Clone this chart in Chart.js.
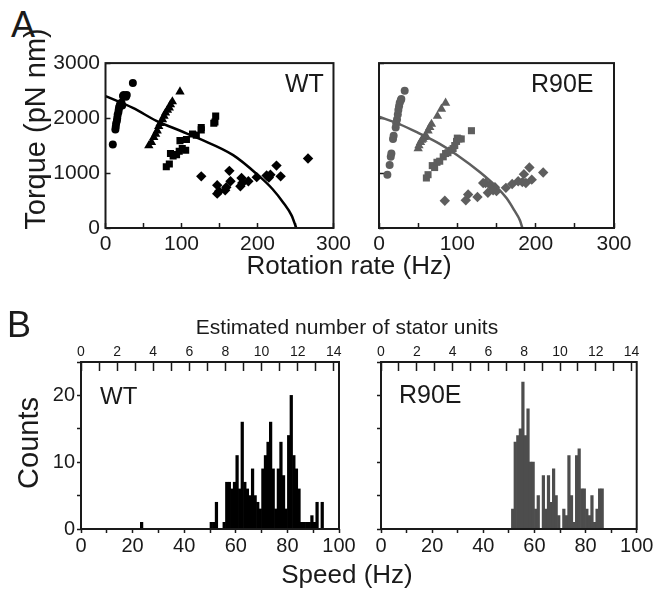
<!DOCTYPE html>
<html>
<head>
<meta charset="utf-8">
<script src="https://cdn.jsdelivr.net/npm/chart.js@4.4.1/dist/chart.umd.min.js"></script>
<style>
  body { margin: 0; background: #fff; }
  #fig { position: relative; width: 655px; height: 589px; overflow: hidden;
         font-family: "Liberation Sans", Arial, sans-serif; color: #1a1a1a; }
  canvas { position: absolute; }
  .t { position: absolute; line-height: 1; white-space: nowrap; z-index: 2; }
  .c { transform: translateX(-50%); }
  .r { transform: translate(-50%, -50%) rotate(-90deg); }
</style>
</head>
<body>
<div id="fig">
  <canvas id="aWT" width="320" height="235" style="left:40px;top:40px"></canvas>
  <canvas id="aR90E" width="290" height="235" style="left:355px;top:40px"></canvas>
  <canvas id="bWT" width="320" height="230" style="left:40px;top:330px"></canvas>
  <canvas id="bR90E" width="300" height="230" style="left:355px;top:330px"></canvas>

  <div class="t" style="left:11px;top:7px;font-size:36px">A</div>
  <div class="t r" style="left:35px;top:129px;font-size:29px">Torque (pN nm)</div>
  <div class="t c" style="left:349px;top:252px;font-size:26px">Rotation rate (Hz)</div>
  <div class="t" style="left:285px;top:71px;font-size:25px">WT</div>
  <div class="t" style="left:531px;top:71px;font-size:25px">R90E</div>

  <div class="t" style="left:7px;top:307px;font-size:36px">B</div>
  <div class="t c" style="left:347px;top:316px;font-size:21px">Estimated number of stator units</div>
  <div class="t r" style="left:28px;top:443px;font-size:29px">Counts</div>
  <div class="t c" style="left:347px;top:561px;font-size:26px">Speed (Hz)</div>
  <div class="t" style="left:100px;top:384px;font-size:24px">WT</div>
  <div class="t" style="left:399px;top:382px;font-size:25px">R90E</div>
</div>
<script>
// ---- panel A: torque (pN nm) vs rotation rate (Hz) ----
const wtCircles = [[9.6,1520],[13,1790],[13.5,1840],[14,1900],[15,1950],[15.5,2000],[16,2060],[17,2110],
  [17.5,2160],[18,2200],[19,2230],[19.5,2260],[21,2280],[22,2230],[23,2400],[24,2420],[27,2390],[28,2420],[36,2640]];
const wtTriangles = [[57,1500],[60.5,1560],[63.5,1650],[66,1710],[68,1770],[70,1850],[72,1905],[75,1975],
  [77,2035],[79,2095],[81.5,2145],[84,2185],[85.5,2245],[88,2300],[98,2480]];
const wtSquares = [[80,1115],[84,1165],[85.5,1355],[89,1310],[93.5,1335],[97,1395],[98,1590],[101,1445],
  [105.5,1415],[106.5,1610],[114.5,1710],[119.5,1690],[126,1830],[126,1785],[142.5,1905],[144,1930],[145,2035]];
const wtDiamonds = [[126,940],[147,780],[147,625],[149.5,670],[157.5,685],[159,740],[163,1040],[164.5,850],
  [177.5,760],[179,910],[180,820],[188,850],[199,925],[212,955],[215,920],[217,970],[225,1135],[230.5,940],[266.5,1265]];
const wtCurve = [[0,2400],[36,2185],[67,1950],[100,1760],[124,1620],[168,1325],[200,970],[220,705],[234,460],[245,225],[251,0]];

const r90eCircles = [[10.7,970],[13.6,1145],[15,1295],[15.8,1355],[17.9,1620],[18.7,1680],[21.3,1830],[22,1905],
  [23,1975],[24,2065],[24.7,2145],[25.6,2215],[26.4,2275],[27.7,2320],[28.5,2345],[32.8,2495]];
const r90eTriangles = [[50,1445],[51,1500],[53,1560],[54.5,1600],[56,1620],[58,1650],[59.7,1680],[62.6,1770],
  [64.8,1830],[67,1890],[74.6,2035],[79.7,2165],[85,2275]];
const r90eSquares = [[60.5,910],[62.6,970],[68,1135],[71,1100],[74,1195],[77.5,1215],[82,1295],[85,1355],
  [88,1370],[92.5,1415],[94.6,1445],[96.7,1500],[99,1575],[100,1635],[102,1620],[105,1620],[118,1770]];
const r90eDiamonds = [[84,495],[110.8,505],[113.8,610],[125.7,565],[133,820],[136,820],[139,640],[142,780],
  [145.7,685],[148,740],[150,670],[162,730],[170,800],[177.7,850],[183,835],[185,980],[187.5,820],[192,1100],[195,880],[209.6,1010]];
const r90eCurve = [[0,2025],[26,1890],[50,1730],[77.5,1530],[100,1325],[129,1015],[150,750],[163,540],[173,315],[180,137],[183,0]];

const rateTicks = [0, 100, 200, 300];
const torqueTicks = [0, 1000, 2000, 3000];

// ---- panel B: speed histograms, 1 Hz bins (bin centres in Hz) ----
const wtBinHz = [23.5, 50.5, 51.5, 52.5, 53.5, 54.5, 55.5, 56.5, 57.5, 58.5, 59.5, 60.5, 61.5, 62.5, 63.5, 64.5,
  65.5, 66.5, 67.5, 68.5, 69.5, 70.5, 71.5, 72.5, 73.5, 74.5, 75.5, 76.5, 77.5, 78.5, 79.5, 80.5, 81.5, 82.5,
  83.5, 84.5, 85.5, 86.5, 87.5, 88.5, 89.5, 90.5, 91.5, 92.5, 93.5];
const wtCounts = [1, 1, 1, 4, 0, 0, 1, 7, 7, 6, 7, 11, 6, 16, 7, 6,
  5, 9, 5, 4, 3, 9, 11, 13, 16, 9, 3, 9, 13, 8, 3, 14, 20, 11,
  9, 6, 1, 1, 1, 1, 2, 1, 4, 0, 4];
const r90eBinHz = [51.5, 52.5, 53.5, 54.5, 55.5, 56.5, 57.5, 58.5, 59.5, 60.5, 61.5, 62.5, 63.5, 64.5, 65.5,
  66.5, 67.5, 68.5, 69.5, 70.5, 71.5, 72.5, 73.5, 74.5, 75.5, 76.5, 77.5, 78.5, 79.5, 80.5, 81.5, 82.5,
  83.5, 84.5, 85.5, 86.5];
const r90eCounts = [3, 13, 14, 15, 22, 14, 18, 10, 10, 3, 5, 0, 8, 3, 8,
  4, 9, 5, 2, 0, 3, 2, 11, 5, 1, 11, 12, 6, 6, 3, 2, 5,
  1, 3, 6, 6];

const speedTicks = [0, 20, 40, 60, 80, 100];
const countTicks = [0, 10, 20];
const statorTicks = [0, 2, 4, 6, 8, 10, 12, 14];
const hzPerStator = 7;

const FONT = '"Liberation Sans", Arial, sans-serif';
const INK = '#1a1a1a';
const WT_COLOR = '#000000';
const R90E_COLOR = '#5e5e5e';
const R90E_BAR = '#4d4d4d';

// box round the plot area
const frame = {
  id: 'frame',
  afterDraw(chart) {
    const a = chart.chartArea;
    const ctx = chart.ctx;
    ctx.save();
    ctx.strokeStyle = INK;
    ctx.lineWidth = 2;
    ctx.strokeRect(a.left, a.top, a.right - a.left, a.bottom - a.top);
    ctx.restore();
  }
};

// padding / axis sizes so that the plot area lands on the given page box
function fitTo(canvas, plot, topAxisH) {
  const cx = canvas.offsetLeft, cy = canvas.offsetTop;
  return {
    padding: { left: 0, top: plot.top - cy - topAxisH, right: cx + canvas.width - plot.right, bottom: 0 },
    leftW: plot.left - cx,
    bottomH: cy + canvas.height - plot.bottom
  };
}

const pts = list => list.map(p => ({ x: p[0], y: p[1] }));

function markerSet(list, style, radius, color) {
  return { type: 'scatter', data: pts(list), pointStyle: style, pointRadius: radius,
           backgroundColor: color, borderColor: color, borderWidth: 0, order: 1 };
}

function curveSet(list, color) {
  return { type: 'line', data: pts(list), borderColor: color, borderWidth: 2.5, pointRadius: 0,
           cubicInterpolationMode: 'monotone', fill: false, order: 0 };
}

function torquePanel(id, plot, s, color, showY) {
  const canvas = document.getElementById(id);
  const f = fitTo(canvas, plot, 0);
  const font = { family: FONT, size: 21 };
  return new Chart(canvas, {
    type: 'scatter',
    data: {
      datasets: [
        markerSet(s.circles, 'circle', 4, color),
        markerSet(s.triangles, 'triangle', 5.4, color),
        markerSet(s.squares, 'rect', 5, color),
        markerSet(s.diamonds, 'rectRot', 5.2, color),
        curveSet(s.curve, color)
      ]
    },
    options: {
      responsive: false,
      animation: false,
      layout: { padding: f.padding },
      plugins: { legend: { display: false }, tooltip: { enabled: false } },
      scales: {
        x: {
          type: 'linear', min: rateTicks[0], max: rateTicks[rateTicks.length - 1],
          afterFit: sc => { sc.height = f.bottomH; },
          border: { display: false },
          grid: { drawOnChartArea: false, tickLength: -5, tickColor: INK, tickWidth: 1.5 },
          ticks: { stepSize: 50, autoSkip: false, maxRotation: 0, padding: 9, color: INK, font: font,
                   callback: v => rateTicks.includes(v) ? String(v) : '' }
        },
        y: {
          type: 'linear', min: torqueTicks[0], max: torqueTicks[torqueTicks.length - 1],
          afterFit: sc => { sc.width = f.leftW; },
          border: { display: false },
          grid: { drawOnChartArea: false, tickLength: -5, tickColor: INK, tickWidth: 1.5 },
          ticks: { stepSize: 1000, autoSkip: false, padding: 10.5, color: INK, font: font,
                   callback: v => (showY && torqueTicks.includes(v)) ? String(v) : '' }
        }
      }
    },
    plugins: [frame]
  });
}

function speedPanel(id, plot, binHz, counts, color, showY) {
  const canvas = document.getElementById(id);
  const topH = 32;
  const f = fitTo(canvas, plot, topH);
  return new Chart(canvas, {
    type: 'bar',
    data: {
      datasets: [{
        data: binHz.map((hz, i) => ({ x: hz, y: counts[i] })),
        backgroundColor: color,
        borderWidth: 0,
        barPercentage: 1,
        categoryPercentage: 1
      }]
    },
    options: {
      responsive: false,
      animation: false,
      layout: { padding: f.padding },
      plugins: { legend: { display: false }, tooltip: { enabled: false } },
      scales: {
        x: {
          type: 'linear', position: 'bottom', offset: false,
          min: speedTicks[0], max: speedTicks[speedTicks.length - 1],
          afterFit: sc => { sc.height = f.bottomH; },
          border: { display: false },
          grid: { offset: false, drawOnChartArea: false, tickLength: 4, tickColor: INK, tickWidth: 1.5 },
          ticks: { stepSize: 10, autoSkip: false, maxRotation: 0, padding: 1.6, color: INK,
                   font: { family: FONT, size: 20 },
                   callback: v => speedTicks.includes(v) ? String(v) : '' }
        },
        x2: {
          type: 'linear', axis: 'x', position: 'top', offset: false,
          min: 0, max: speedTicks[speedTicks.length - 1] / hzPerStator,
          afterFit: sc => { sc.height = topH; },
          border: { display: false },
          grid: { offset: false, drawOnChartArea: false, tickLength: -9, tickColor: INK, tickWidth: 1.5 },
          ticks: { stepSize: 1, includeBounds: false, autoSkip: false, maxRotation: 0, padding: 10.6, color: INK,
                   font: { family: FONT, size: 14 },
                   callback: v => statorTicks.includes(v) ? String(v) : '' }
        },
        y: {
          type: 'linear', min: 0, max: 25,
          afterFit: sc => { sc.width = f.leftW; },
          border: { display: false },
          grid: { drawOnChartArea: false, tickLength: 4, tickColor: INK, tickWidth: 1.5 },
          ticks: { stepSize: 5, autoSkip: false, padding: 2, color: INK,
                   font: { family: FONT, size: 20 },
                   callback: v => (showY && countTicks.includes(v)) ? String(v) : '' }
        }
      }
    },
    plugins: [frame]
  });
}

torquePanel('aWT', { left: 105.5, top: 59.5, right: 336, bottom: 228 },
  { circles: wtCircles, triangles: wtTriangles, squares: wtSquares, diamonds: wtDiamonds, curve: wtCurve },
  WT_COLOR, true);
torquePanel('aR90E', { left: 379, top: 59.5, right: 614, bottom: 228 },
  { circles: r90eCircles, triangles: r90eTriangles, squares: r90eSquares, diamonds: r90eDiamonds, curve: r90eCurve },
  R90E_COLOR, false);

speedPanel('bWT', { left: 81, top: 362, right: 339, bottom: 529 }, wtBinHz, wtCounts, WT_COLOR, true);
speedPanel('bR90E', { left: 381, top: 362, right: 637, bottom: 529 }, r90eBinHz, r90eCounts, R90E_BAR, false);
</script>
</body>
</html>
